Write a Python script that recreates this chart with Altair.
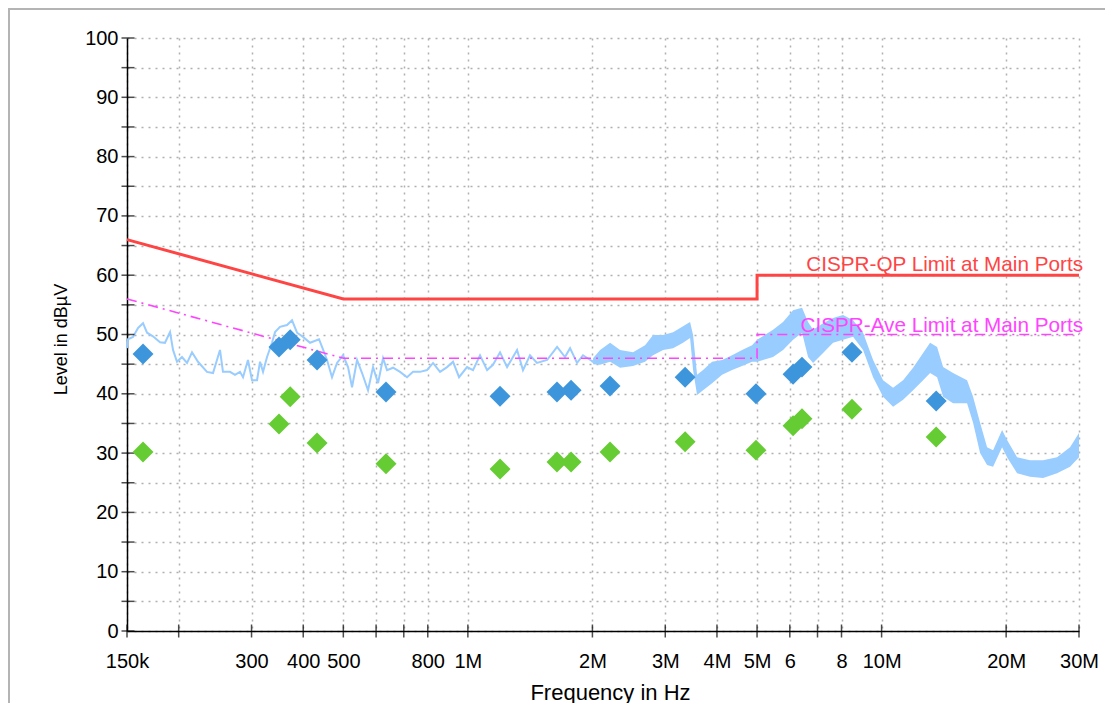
import altair as alt
import pandas as pd

# ---------------- data ----------------
# Spectrum trace, low-frequency (thin) part: frequency in Hz, level in dBuV
trace_freq = [150000, 150800, 155100, 159500, 164000, 167700, 173300, 180300, 185300, 190600,
              193800, 198100, 203700, 209500, 215400, 222700, 234100, 242100, 251700, 255900,
              266100, 273600, 281300, 286100, 294100, 300800, 309300, 314500, 319800, 327000,
              336200, 341900, 351500, 365500, 375800, 386400, 399500, 415400, 436800, 444100,
              456600, 469500, 482800, 499200, 513300, 524800, 539700, 554900, 573700, 589900,
              606600, 623700, 637700, 659400, 685600, 712800, 737000, 766300, 796700, 823800,
              856500, 890600, 920800, 952100, 995400, 1029000, 1070000, 1113000, 1150000, 1196000,
              1244000, 1315000, 1359000, 1413000, 1469000, 1554000, 1643000, 1717000, 1766000, 1836000,
              1898000, 2007000]
trace_level = [47.7, 49.2, 49.6, 51.1, 51.9, 50.3, 49.7, 48.7, 48.6, 50.4,
               47.4, 45.4, 46.2, 45.2, 47.0, 45.4, 43.7, 43.5, 47.4, 43.7,
               43.7, 43.2, 43.7, 42.8, 45.7, 42.3, 42.3, 45.4, 43.7, 46.2,
               48.6, 50.4, 51.3, 51.6, 52.4, 50.3, 49.6, 48.6, 49.2, 47.9,
               45.7, 42.8, 45.2, 46.5, 44.5, 41.1, 45.7, 43.5, 40.6, 44.5,
               41.8, 46.0, 44.0, 44.4, 43.7, 42.8, 43.7, 43.7, 44.0, 45.2,
               43.7, 44.5, 45.4, 42.8, 44.5, 44.0, 46.5, 44.0, 44.9, 47.0,
               44.5, 47.4, 44.0, 46.5, 45.2, 45.7, 47.9, 46.2, 47.7, 45.2,
               46.5, 45.4]

# Spectrum trace, high-frequency (noisy band) part: envelope low / high
band_freq = [2007000, 2087000, 2207000, 2333000, 2507000, 2681000, 2803000, 2963000, 3133000, 3312000,
             3444000, 3502000, 3581000, 3702000, 3893000, 4116000, 4351000, 4600000, 4863000, 5001000,
             5465000, 5778000, 6109000, 6423000, 6641000, 6828000, 7219000, 7632000, 8069000, 8532000,
             9020000, 9537000, 10082000, 10660000, 11270000, 11915000, 12598000, 13099000, 13619000, 14082000,
             14883000, 16090000, 16638000, 17300000, 17987000, 18598000, 19554000, 20106000, 21257000, 22845000,
             24566000, 26552000, 28544000, 30000000]
band_high = [46.0, 47.4, 48.6, 47.4, 47.0, 48.2, 49.9, 49.9, 50.4, 51.4,
             52.1, 49.9, 43.2, 44.0, 45.4, 45.7, 46.5, 47.4, 48.2, 49.1,
             50.8, 52.1, 54.1, 54.5, 52.1, 50.8, 51.9, 52.8, 53.3, 52.4,
             50.3, 45.7, 42.3, 41.0, 42.3, 44.4, 46.9, 48.6, 47.9, 44.5,
             43.5, 42.3, 39.5, 35.1, 31.0, 30.5, 33.9, 32.2, 29.3, 28.8,
             28.8, 29.3, 31.0, 33.4]
band_low = [45.0, 44.9, 45.4, 44.4, 44.7, 45.4, 46.5, 47.4, 47.7, 48.6,
            49.4, 44.0, 39.8, 40.6, 41.8, 43.2, 44.0, 44.7, 45.4, 45.4,
            46.2, 47.4, 49.1, 50.3, 46.2, 45.2, 46.9, 48.6, 49.1, 49.6,
            47.4, 42.8, 39.5, 37.8, 39.0, 40.6, 42.3, 43.5, 42.8, 39.5,
            38.4, 38.4, 35.1, 30.0, 28.0, 27.7, 31.0, 29.3, 26.6, 26.0,
            25.8, 26.6, 27.7, 29.3]

# Final measurements (quasi-peak and average) at the same frequencies
meas_freq = [164000, 349500, 372000, 432000, 634000, 1196000, 1642000, 1776000, 2206000, 3350000,
             4970000, 6110000, 6420000, 8480000, 13550000]
qp_level = [46.7, 47.9, 49.1, 45.7, 40.3, 39.6, 40.3, 40.6, 41.3, 42.8,
            40.0, 43.3, 44.5, 47.0, 38.8]
av_level = [30.2, 34.9, 39.5, 31.7, 28.2, 27.3, 28.5, 28.5, 30.2, 31.9,
            30.5, 34.6, 35.8, 37.4, 32.7]

# Limit lines
limit_freq = [150000, 500000, 5000000, 5000000, 30000000]
qp_limit = [66, 56, 56, 60, 60]
av_limit = [56, 46, 46, 50, 50]
limit_labels = ["CISPR-QP Limit at Main Ports", "CISPR-Ave Limit at Main Ports"]

# Axis ticks
x_ticks = [150000, 200000, 300000, 400000, 500000, 600000, 700000, 800000, 1000000,
           2000000, 3000000, 4000000, 5000000, 6000000, 7000000, 8000000, 10000000,
           20000000, 30000000]
x_labels = ["150k", "", "300", "400", "500", "", "", "800", "1M",
            "2M", "3M", "4M", "5M", "6", "", "8", "10M",
            "20M", "30M"]
y_ticks = [0, 5, 10, 15, 20, 25, 30, 35, 40, 45, 50, 55, 60, 65, 70, 75, 80, 85, 90, 95, 100]

# ---------------- chart ----------------
W, H = 952, 593
FONT = "Liberation Sans"
QP_RED = "#ff4444"
AV_MAG = "#ff44ff"
TRACE = "#99ccff"
BLUE = "#3d96dc"
GREEN = "#66cc33"

xscale = alt.Scale(type="log", domain=[150000, 30000000], nice=False)
yscale = alt.Scale(domain=[0, 100], nice=False)

label_expr = "".join(f"datum.value == {v} ? '{l}' : " for v, l in zip(x_ticks, x_labels)) + "''"

xaxis = alt.Axis(values=x_ticks, labelExpr=label_expr, title="Frequency in Hz",
                 ticks=False, labelPadding=20, labelOverlap=False, labelFlush=False,
                 grid=True, titleX=483, titleY=68, titleAlign="center",
                 titleBaseline="alphabetic", titleFontSize=22)
yaxis = alt.Axis(values=y_ticks, labelExpr="datum.value % 10 == 0 ? datum.label : ''",
                 title="Level in dB\u00b5V", ticks=False, labelPadding=9, labelOverlap=False,
                 grid=True, titleX=-66, titleY=301, titleAngle=270, titleAlign="center",
                 titleBaseline="middle", titleFontSize=18)


def X(field="freq"):
    return alt.X(f"{field}:Q", scale=xscale, axis=xaxis)


def Y(field="level"):
    return alt.Y(f"{field}:Q", scale=yscale, axis=yaxis)


trace_df = pd.DataFrame({"freq": trace_freq, "level": trace_level})
band_df = pd.DataFrame({"freq": band_freq, "lo": band_low, "hi": band_high})
qp_df = pd.DataFrame({"freq": meas_freq, "level": qp_level})
av_df = pd.DataFrame({"freq": meas_freq, "level": av_level})
qpl_df = pd.DataFrame({"freq": limit_freq, "level": qp_limit, "idx": list(range(len(limit_freq)))})
avl_df = pd.DataFrame({"freq": limit_freq, "level": av_limit, "idx": list(range(len(limit_freq)))})
lab_df = pd.DataFrame({"freq": [limit_freq[-1]] * 2, "level": [qp_limit[-1], av_limit[-1]],
                       "label": limit_labels})
xt_df = pd.DataFrame({"freq": x_ticks})
yt_df = pd.DataFrame({"level": y_ticks})

border = alt.Chart(pd.DataFrame({"a": [0]})).mark_rect(
    filled=False, stroke="#b4b4b4", strokeWidth=2
).encode(x=alt.value(-118), x2=alt.value(1200), y=alt.value(-29), y2=alt.value(900))

band = alt.Chart(band_df).mark_area(color=TRACE, opacity=1).encode(
    x=X(), y=Y("lo"), y2="hi:Q")
trace = alt.Chart(trace_df).mark_line(color=TRACE, strokeWidth=2).encode(x=X(), y=Y())

av_line = alt.Chart(avl_df).mark_line(color=AV_MAG, strokeWidth=1.6, strokeDash=[10, 5, 2, 5]).encode(
    x=X(), y=Y(), order="idx:Q")
qp_line = alt.Chart(qpl_df).mark_line(color=QP_RED, strokeWidth=3).encode(
    x=X(), y=Y(), order="idx:Q")

yt = alt.Chart(yt_df).mark_tick(color="black", thickness=1.5, size=13, orient="horizontal").encode(
    y=Y(), x=alt.value(1))
xt = alt.Chart(xt_df).mark_tick(color="black", thickness=1.5, size=13, orient="vertical").encode(
    x=X(), y=alt.value(H))

qp_pts = alt.Chart(qp_df).mark_point(shape="diamond", filled=True, size=440, opacity=1, color=BLUE).encode(
    x=X(), y=Y())
av_pts = alt.Chart(av_df).mark_point(shape="diamond", filled=True, size=440, opacity=1, color=GREEN).encode(
    x=X(), y=Y())

qp_text = alt.Chart(lab_df.iloc[[0]]).mark_text(
    align="right", baseline="alphabetic", dx=4, dy=-4, font=FONT, fontSize=20.7, color=QP_RED
).encode(x=X(), y=Y(), text="label:N")
av_text = alt.Chart(lab_df.iloc[[1]]).mark_text(
    align="right", baseline="alphabetic", dx=4, dy=-3, font=FONT, fontSize=20.7, color=AV_MAG
).encode(x=X(), y=Y(), text="label:N")

chart = alt.layer(
    border, band, trace, av_line, qp_line, yt, xt, qp_pts, av_pts, qp_text, av_text
).properties(
    width=W, height=H,
    autosize=alt.AutoSizeParams(type="none"),
    padding={"left": 119, "top": 30, "right": 26, "bottom": 72},
).configure_view(strokeWidth=0).configure_axis(
    domainColor="black", domainWidth=1.5,
    gridColor="#b0b0b0", gridDash=[2, 5], gridWidth=1.5,
    labelFont=FONT, labelFontSize=20, labelColor="black",
    titleFont=FONT, titleColor="black", titleFontWeight="normal",
)

chart.save("out.html", embed_options={"renderer": "svg", "actions": False})
